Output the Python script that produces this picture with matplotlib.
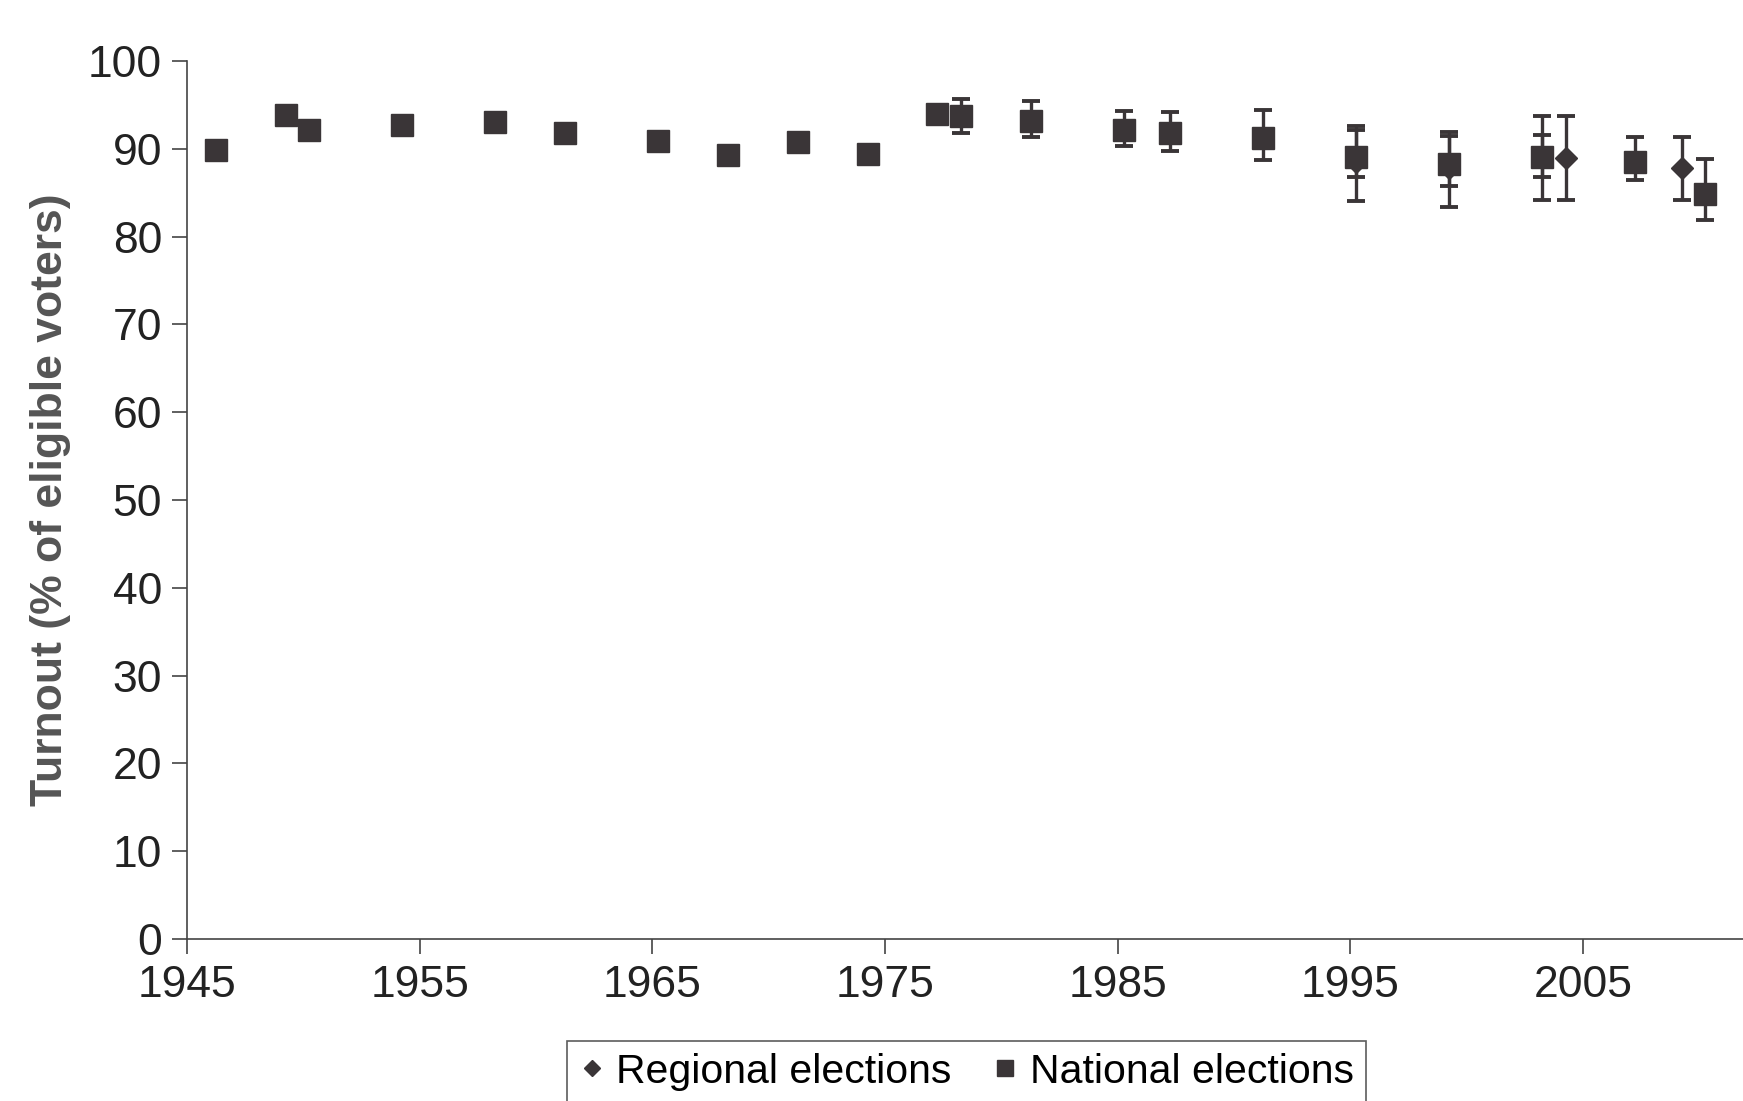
import numpy as np
import matplotlib
matplotlib.use("Agg")
import matplotlib.pyplot as plt
from matplotlib.lines import Line2D

plt.rcParams['font.family'] = ['Liberation Sans', 'DejaVu Sans']

# national elections: year, turnout, lower and upper end of the bars
nat_years = [1946, 1949, 1950, 1954, 1958, 1961, 1965, 1968, 1971, 1974,
             1977, 1978, 1981, 1985, 1987, 1991, 1995, 1999, 2003, 2007, 2010]
nat_turnout = [89.9, 93.9, 92.1, 92.7, 93.1, 91.8, 90.9, 89.3, 90.8, 89.4,
               94.0, 93.7, 93.2, 92.1, 91.8, 91.2, 89.1, 88.3, 89.1, 88.5, 84.9]
nat_low = [89.9, 93.9, 92.1, 92.7, 93.1, 91.8, 90.9, 89.3, 90.8, 89.4,
           94.0, 91.8, 91.4, 90.3, 89.8, 88.7, 86.8, 85.8, 86.8, 86.5, 81.9]
nat_high = [89.9, 93.9, 92.1, 92.7, 93.1, 91.8, 90.9, 89.3, 90.8, 89.4,
            94.0, 95.7, 95.4, 94.3, 94.2, 94.4, 92.1, 91.5, 91.6, 91.4, 88.8]

# regional elections
reg_years = [1995, 1999, 2003, 2004, 2009]
reg_turnout = [88.5, 87.8, 89.1, 88.9, 87.8]
reg_low = [84.0, 83.4, 84.2, 84.2, 84.2]
reg_high = [92.6, 91.9, 93.7, 93.7, 91.4]

x_ticks = [1945, 1955, 1965, 1975, 1985, 1995, 2005]
y_ticks = [0, 10, 20, 30, 40, 50, 60, 70, 80, 90, 100]

dark = '#3a3537'
shift = 0.25

fig = plt.figure(figsize=(17.43, 11.01), dpi=100)
ax = fig.add_axes([0.1073, 0.1471, 0.8927, 0.7975])

rx = np.array(reg_years) + shift
ry = np.array(reg_turnout)
ax.errorbar(rx, ry, yerr=[ry - np.array(reg_low), np.array(reg_high) - ry],
            fmt='none', ecolor=dark, elinewidth=2.4, capsize=6.5, capthick=2.8, zorder=2)

nx = np.array(nat_years) + shift
ny = np.array(nat_turnout)
ax.errorbar(nx, ny, yerr=[ny - np.array(nat_low), np.array(nat_high) - ny],
            fmt='none', ecolor=dark, elinewidth=2.4, capsize=6.5, capthick=2.8, zorder=3)

ax.plot(rx, ry, linestyle='none', marker='D', markersize=11, color=dark, zorder=4)
ax.plot(nx, ny, linestyle='none', marker='s', markersize=16.5, color=dark, zorder=5)

ax.set_xlim(1945, 2011.87)
ax.set_ylim(0, 100)
ax.set_xticks(x_ticks)
ax.set_yticks(y_ticks)

for s in ['top', 'right']:
    ax.spines[s].set_visible(False)
for s in ['left', 'bottom']:
    ax.spines[s].set_color('#444444')
    ax.spines[s].set_linewidth(1.2)

ax.tick_params(axis='both', direction='out', length=11, width=1.2, color='#444444',
               labelsize=32, labelcolor='#222222')
ax.tick_params(axis='x', pad=8)
ax.tick_params(axis='y', pad=7)

ax.set_ylabel('Turnout (% of eligible voters)', fontsize=32, fontweight='bold',
              color='#555555', labelpad=12)

handles = [Line2D([], [], linestyle='none', marker='D', markersize=8, color=dark),
           Line2D([], [], linestyle='none', marker='s', markersize=12, color=dark)]
leg = fig.legend(handles, ['Regional elections', 'National elections'],
                 loc='center', bbox_to_anchor=(0.5545, 0.0265), ncol=2, fontsize=29.5,
                 frameon=True, fancybox=False, handlelength=0.6, handletextpad=0.3,
                 columnspacing=1.0, borderpad=0.3)
leg.get_frame().set_edgecolor('#333333')
leg.get_frame().set_linewidth(1.2)

fig.savefig('out.png', dpi=100)
